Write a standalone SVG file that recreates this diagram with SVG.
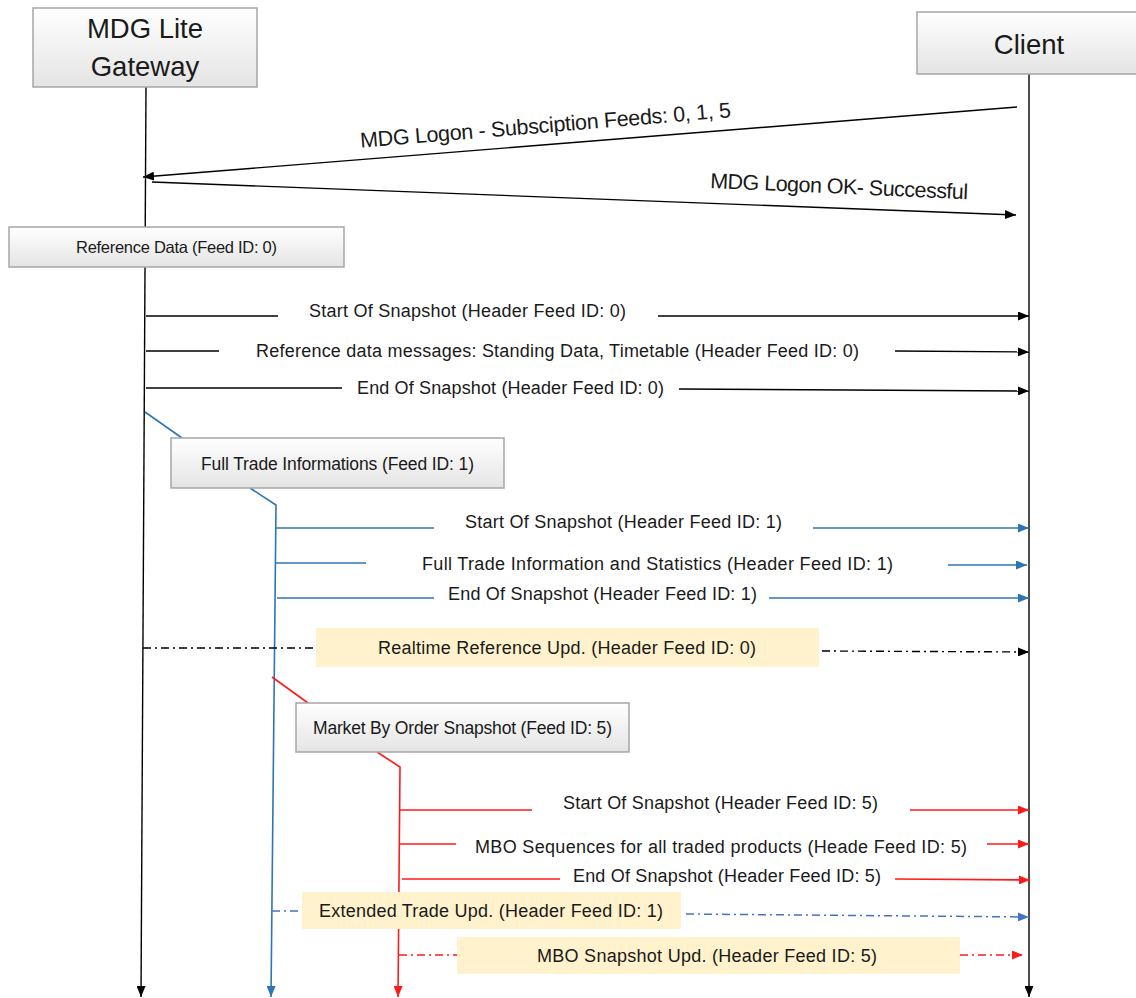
<svg xmlns="http://www.w3.org/2000/svg" width="1136" height="998" viewBox="0 0 1136 998">
<style>
text{font-family:"Liberation Sans",Arial,sans-serif;fill:#1a1a1a}
.big{font-size:27.5px;text-anchor:middle}
.box{fill:url(#gg);stroke:#a6a6a6;stroke-width:1.5}
.hl{fill:#fff2cc;stroke:none}
.bt{font-size:16.5px}
.bt2{font-size:17.5px}
.mt{font-size:18px}
.lg{font-size:21.5px}
.k{stroke:#000;stroke-width:1.4;fill:none}
.b{stroke:#2e75b6;stroke-width:1.6;fill:none}
.lb{stroke:#4472c4;stroke-width:1.5;fill:none}
.r{stroke:#ff1a1a;stroke-width:1.6;fill:none}
.dd{stroke-dasharray:8 4 2 4}
</style>
<defs>
<linearGradient id="gg" x1="0" y1="0" x2="0" y2="1">
<stop offset="0" stop-color="#ffffff"/>
<stop offset="1" stop-color="#e4e4e4"/>
</linearGradient>
<marker id="ak" markerUnits="userSpaceOnUse" markerWidth="11" markerHeight="9" refX="11" refY="4.5" orient="auto"><path d="M0,0 L11,4.5 L0,9 z" fill="#000"/></marker>
<marker id="ab" markerUnits="userSpaceOnUse" markerWidth="11" markerHeight="9" refX="11" refY="4.5" orient="auto"><path d="M0,0 L11,4.5 L0,9 z" fill="#2e75b6"/></marker>
<marker id="alb" markerUnits="userSpaceOnUse" markerWidth="11" markerHeight="9" refX="11" refY="4.5" orient="auto"><path d="M0,0 L11,4.5 L0,9 z" fill="#4472c4"/></marker>
<marker id="ar" markerUnits="userSpaceOnUse" markerWidth="11" markerHeight="9" refX="11" refY="4.5" orient="auto"><path d="M0,0 L11,4.5 L0,9 z" fill="#ff1a1a"/></marker>
</defs>

<g id="connectors">
<path class="k" d="M146,87 L141,997" marker-end="url(#ak)"/>
<path class="k" d="M1029,74 L1029,997" marker-end="url(#ak)"/>
<path class="b" d="M145,412 L182,438"/>
<path class="b" d="M250,488 L276,505 L271,997" marker-end="url(#ab)"/>
<path class="r" d="M272,677 L308,703"/>
<path class="r" d="M377,752 L400,767 L398,997" marker-end="url(#ar)"/>

<path class="k" d="M1017,107 L143,177" marker-end="url(#ak)"/>
<text class="lg" x="360.7" y="147.7" textLength="372" transform="rotate(-4.7 360.7 147.7)">MDG Logon - Subsciption Feeds: 0, 1, 5</text>
<path class="k" d="M152,182 L1016,215" marker-end="url(#ak)"/>
<text class="lg" x="710" y="188" textLength="258" transform="rotate(2.5 710 188)">MDG Logon OK- Successful</text>

<path class="k" d="M146,316 L278,316"/>
<path class="k" d="M658,316 L1029,316" marker-end="url(#ak)"/>
<text class="mt" x="309" y="317" textLength="317">Start Of Snapshot (Header Feed ID: 0)</text>
<path class="k" d="M146,351 L219,351"/>
<path class="k" d="M895,351 L1029,352" marker-end="url(#ak)"/>
<text class="mt" x="256" y="357" textLength="603">Reference data messages: Standing Data, Timetable (Header Feed ID: 0)</text>
<path class="k" d="M146,388 L342,388"/>
<path class="k" d="M679,389 L1029,391" marker-end="url(#ak)"/>
<text class="mt" x="357" y="394" textLength="307">End Of Snapshot (Header Feed ID: 0)</text>

<path class="b" d="M276,528 L434,528"/>
<path class="b" d="M813,528 L1029,528" marker-end="url(#ab)"/>
<text class="mt" x="465" y="528" textLength="317">Start Of Snapshot (Header Feed ID: 1)</text>
<path class="b" d="M276,563 L366,563"/>
<path class="b" d="M948,565 L1027,565" marker-end="url(#ab)"/>
<text class="mt" x="422" y="570" textLength="471">Full Trade Information and Statistics (Header Feed ID: 1)</text>
<path class="b" d="M277,598 L434,598"/>
<path class="b" d="M769,598 L1029,598" marker-end="url(#ab)"/>
<text class="mt" x="448" y="600" textLength="309">End Of Snapshot (Header Feed ID: 1)</text>

<path class="k dd" d="M143,648 L316,648"/>
<path class="k dd" d="M822,651 L1029,652" marker-end="url(#ak)"/>

<path class="r" d="M400,810 L532,810"/>
<path class="r" d="M910,810 L1029,810" marker-end="url(#ar)"/>
<text class="mt" x="563" y="809" textLength="315">Start Of Snapshot (Header Feed ID: 5)</text>
<path class="r" d="M400,844 L456,844"/>
<path class="r" d="M987,844 L1029,844" marker-end="url(#ar)"/>
<text class="mt" x="475" y="853" textLength="492">MBO Sequences for all traded products (Heade Feed ID: 5)</text>
<path class="r" d="M402,879 L560,879"/>
<path class="r" d="M895,879 L1030,880" marker-end="url(#ar)"/>
<text class="mt" x="573" y="882" textLength="308">End Of Snapshot (Header Feed ID: 5)</text>

<path class="lb dd" d="M272,911 L302,911"/>
<path class="lb dd" d="M686,914 L1029,917" marker-end="url(#alb)"/>
<path class="r dd" d="M399,955 L457,955"/>
<path class="r dd" d="M960,955 L1023,955" marker-end="url(#ar)"/>
</g>

<g id="gateway">
<rect class="box" x="33" y="8" width="224" height="79"/>
<text class="big" x="145" y="38">MDG Lite</text>
<text class="big" x="145" y="76">Gateway</text>
</g>
<g id="client">
<rect class="box" x="917" y="12" width="225" height="62"/>
<text class="big" x="1029" y="54">Client</text>
</g>
<g id="reference-data">
<rect class="box" x="9" y="227" width="335" height="40"/>
<text class="bt" x="76" y="253" textLength="201">Reference Data (Feed ID: 0)</text>
</g>
<g id="full-trade">
<rect class="box" x="171" y="438" width="333" height="50"/>
<text class="bt2" x="201" y="470" textLength="273">Full Trade Informations (Feed ID: 1)</text>
</g>
<g id="realtime-reference">
<rect class="hl" x="316" y="628" width="503" height="39"/>
<text class="mt" x="378" y="654" textLength="378">Realtime Reference Upd. (Header Feed ID: 0)</text>
</g>
<g id="mbo-snapshot">
<rect class="box" x="296" y="703" width="333" height="49"/>
<text class="bt2" x="313" y="734" textLength="299">Market By Order Snapshot (Feed ID: 5)</text>
</g>
<g id="extended-trade">
<rect class="hl" x="302" y="892" width="379" height="37"/>
<text class="mt" x="319" y="917" textLength="344">Extended Trade Upd. (Header Feed ID: 1)</text>
</g>
<g id="mbo-update">
<rect class="hl" x="457" y="937" width="503" height="37"/>
<text class="mt" x="537" y="962" textLength="340">MBO Snapshot Upd. (Header Feed ID: 5)</text>
</g>
</svg>
